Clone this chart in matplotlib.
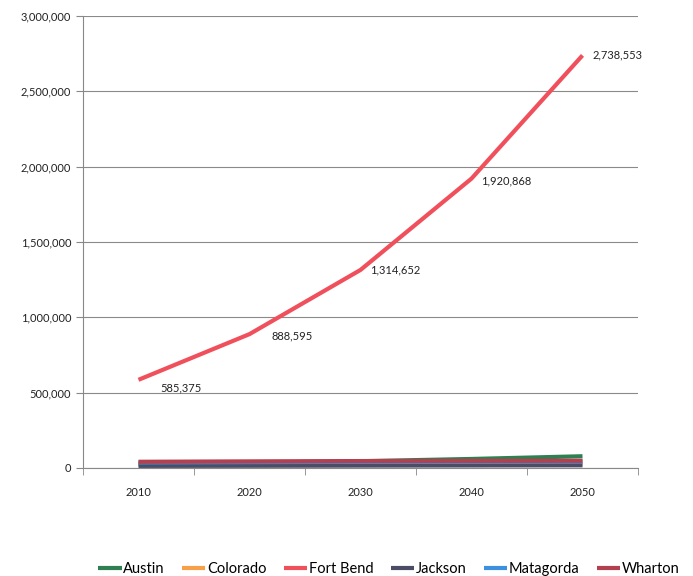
import matplotlib
matplotlib.use("Agg")
import matplotlib.pyplot as plt
import numpy as np
from matplotlib.ticker import FuncFormatter

years = ["2010", "2020", "2030", "2040", "2050"]
austin = [28417, 35000, 45000, 60000, 78000]
colorado = [20874, 22000, 23500, 25000, 26000]
fort_bend = [585375, 888595, 1314652, 1920868, 2738553]
jackson = [14075, 15000, 16000, 17000, 18000]
matagorda = [36702, 39000, 41000, 42000, 43000]
wharton = [41280, 44000, 46000, 47000, 48000]

series = [
    ("Austin", austin, "#2f7f52"),
    ("Colorado", colorado, "#f7a04a"),
    ("Fort Bend", fort_bend, "#f0505c"),
    ("Jackson", jackson, "#4b4d66"),
    ("Matagorda", matagorda, "#3d8fe0"),
    ("Wharton", wharton, "#b2404e"),
]

plt.rcParams['font.family'] = ['Lato', 'DejaVu Sans']
fig = plt.figure(figsize=(6.93, 5.76), dpi=100)
ax = fig.add_axes([83 / 693, 1 - 468 / 576, 555 / 693, 452 / 576])

x = np.arange(len(years))
for name, vals, col in series:
    ax.plot(x, vals, color=col, linewidth=3, label=name, solid_capstyle='butt')

# data labels on the Fort Bend line
offsets = [(16, -6), (16, -1), (7, 0), (7, -2), (7, 0)]
for xi, v, off in zip(x, fort_bend, offsets):
    ax.annotate(f"{v:,}", (xi, v), xytext=off, textcoords='offset points',
                fontsize=8, color="#222222", va='center', ha='left')

ax.set_xlim(-0.5, len(years) - 0.5)
ax.set_ylim(0, 3000000)
ax.set_yticks(np.arange(0, 3000001, 500000))
ax.yaxis.set_major_formatter(FuncFormatter(lambda v, p: f"{int(v):,}"))
ax.set_xticks(x)
ax.set_xticklabels(years)
ax.set_xticks(np.arange(-0.5, len(years), 1), minor=True)
ax.tick_params(axis='x', which='major', length=0, pad=14, labelsize=8, colors="#222222")
ax.tick_params(axis='x', which='minor', length=5, color="#888888", direction='out')
ax.tick_params(axis='y', length=5, color="#888888", labelsize=8, colors="#222222")
for lab in ax.get_yticklabels():
    lab.set_color("#222222")

ax.grid(axis='y', color="#8a8a8a", linewidth=0.8)
ax.set_axisbelow(True)
for s in ['top', 'right']:
    ax.spines[s].set_visible(False)
ax.spines['left'].set_color("#888888")
ax.spines['bottom'].set_color("#888888")

fig.legend(loc='center', bbox_to_anchor=(0.561, 1 - 569 / 576), ncol=6,
           frameon=False, handlelength=1.6, handletextpad=0.1,
           columnspacing=1.2, prop={'size': 10.5})

fig.savefig("out.png", dpi=100)
